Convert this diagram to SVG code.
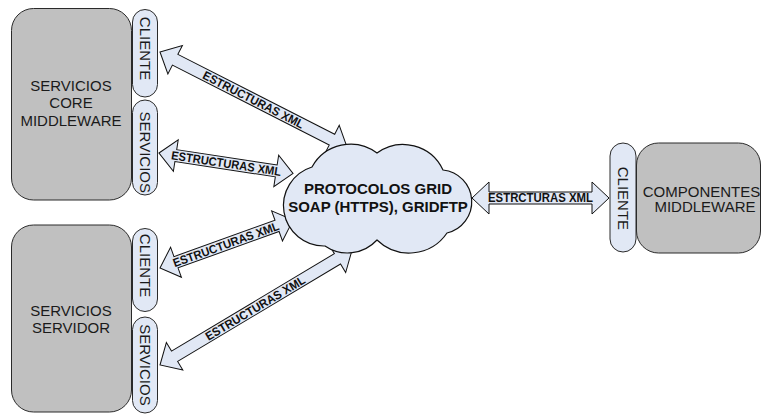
<svg xmlns="http://www.w3.org/2000/svg" width="761" height="414" viewBox="0 0 761 414">
  <style>
    .box { fill: #c0c0c0; stroke: #2a2a2a; stroke-width: 1; }
    .pill { fill: #e1e8f5; stroke: #2a2a2a; stroke-width: 1; }
    .cloud { fill: #e1e8f5; stroke: #111; stroke-width: 1.2; }
    .arrow { fill: #e1e8f5; stroke: #111; stroke-width: 1; stroke-linejoin: miter; }
    .big { font-family: "Liberation Sans", Arial, sans-serif; font-size: 15px; fill: #1a1a1a; text-anchor: middle; }
    .side { font-family: "Liberation Sans", Arial, sans-serif; font-size: 15px; fill: #1a1a1a; text-anchor: middle; }
    .cloudtxt { font-family: "Liberation Sans", Arial, sans-serif; font-size: 15px; font-weight: bold; fill: #111; text-anchor: middle; }
    .lbl { font-family: "Liberation Sans", Arial, sans-serif; font-size: 12px; font-weight: bold; fill: #111; text-anchor: middle; }
  </style>

  <!-- double-headed block arrows, each laid out along its own local x axis -->
  <g id="connectors">
    <g transform="translate(160,52) rotate(27)">
      <polygon class="arrow" points="0,0 17,-16 17,-6 193,-6 193,-16 210,0 193,16 193,6 17,6 17,16"/>
      <text class="lbl" x="105" y="4.3" textLength="112" lengthAdjust="spacingAndGlyphs">ESTRUCTURAS XML</text>
    </g>
    <g transform="translate(159,153) rotate(8.7)">
      <polygon class="arrow" points="0,0 17,-16 17,-6 118.6,-6 118.6,-16 135.6,0 118.6,16 118.6,6 17,6 17,16"/>
      <text class="lbl" x="68" y="4.3" textLength="111" lengthAdjust="spacingAndGlyphs">ESTRUCTURAS XML</text>
    </g>
    <g transform="translate(160,268) rotate(-19.8)">
      <polygon class="arrow" points="0,0 17,-16 17,-6 124.4,-6 124.4,-16 141.4,0 124.4,16 124.4,6 17,6 17,16"/>
      <text class="lbl" x="70" y="4.3" textLength="112" lengthAdjust="spacingAndGlyphs">ESTRUCTURAS XML</text>
    </g>
    <g transform="translate(160,365) rotate(-30.9)">
      <polygon class="arrow" points="0,0 17,-16 17,-6 206.8,-6 206.8,-16 223.8,0 206.8,16 206.8,6 17,6 17,16"/>
      <text class="lbl" x="111" y="4.3" textLength="114" lengthAdjust="spacingAndGlyphs">ESTRUCTURAS XML</text>
    </g>
    <g transform="translate(472,198)">
      <polygon class="arrow" points="0,0 17,-16 17,-6 120,-6 120,-16 137,0 120,16 120,6 17,6 17,16"/>
      <text class="lbl" x="68.5" y="4.3" textLength="105" lengthAdjust="spacingAndGlyphs">ESTRCTURAS XML</text>
    </g>
  </g>

  <g id="core-middleware">
    <rect class="box" x="11.5" y="8.5" width="120" height="191.5" rx="22"/>
    <text class="big" x="71" y="90.5">SERVICIOS</text>
    <text class="big" x="71" y="108">CORE</text>
    <text class="big" x="71" y="125.5">MIDDLEWARE</text>
  </g>
  <g id="core-cliente">
    <rect class="pill" x="132.5" y="9.5" width="25" height="87.5" rx="12.5"/>
    <text class="side" transform="translate(139.5,48.5) rotate(90)">CLIENTE</text>
  </g>
  <g id="core-servicios">
    <rect class="pill" x="132.5" y="100" width="25" height="95" rx="12.5"/>
    <text class="side" transform="translate(139.5,152.3) rotate(90)">SERVICIOS</text>
  </g>

  <g id="servidor">
    <rect class="box" x="11.5" y="225" width="120" height="187" rx="22"/>
    <text class="big" x="71" y="315.5">SERVICIOS</text>
    <text class="big" x="71" y="333">SERVIDOR</text>
  </g>
  <g id="servidor-cliente">
    <rect class="pill" x="132.5" y="228.5" width="25" height="83" rx="12.5"/>
    <text class="side" transform="translate(139.5,265.5) rotate(90)">CLIENTE</text>
  </g>
  <g id="servidor-servicios">
    <rect class="pill" x="132.5" y="317" width="25" height="96" rx="12.5"/>
    <text class="side" transform="translate(139.5,365) rotate(90)">SERVICIOS</text>
  </g>

  <g id="protocolos">
    <path class="cloud" d="M312,167 A44,44 0 0 1 377,153 A44,44 0 0 1 443,170 A32,32 0 0 1 447,233 A46,46 0 0 1 377,240 A40,40 0 0 1 325,246 A40.4,40.4 0 0 1 312,167 Z"/>
    <text class="cloudtxt" x="378" y="194">PROTOCOLOS GRID</text>
    <text class="cloudtxt" x="378" y="211.5">SOAP (HTTPS), GRIDFTP</text>
  </g>

  <g id="componentes">
    <rect class="box" x="636.5" y="143" width="124" height="110" rx="22"/>
    <text class="big" x="701.5" y="196.5">COMPONENTES</text>
    <text class="big" x="705" y="212">MIDDLEWARE</text>
  </g>
  <g id="componentes-cliente">
    <rect class="pill" x="610" y="143" width="26" height="109" rx="13"/>
    <text class="side" transform="translate(617.5,198.4) rotate(90)">CLIENTE</text>
  </g>
</svg>
